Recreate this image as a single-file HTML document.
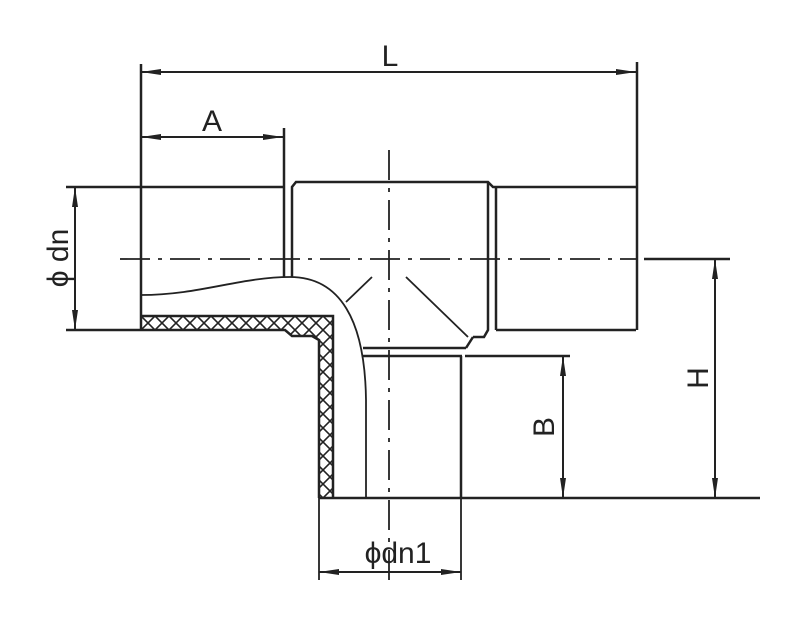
<!DOCTYPE html>
<html><head><style>body{margin:0;background:#fff}svg{display:block}</style></head><body>
<svg width="800" height="619" viewBox="0 0 800 619" xmlns="http://www.w3.org/2000/svg">
<defs>
<pattern id="h" x="141" y="316" width="14" height="14" patternUnits="userSpaceOnUse">
<path d="M0 0L14 14M14 0L0 14" stroke="#222" stroke-width="1.6"/>
</pattern>
</defs>
<g fill="none" stroke="#222" stroke-width="2.5">
<path d="M141 316H333V498H319V340L312 336H292L285 330H141Z" fill="url(#h)" stroke="none"/>
<path d="M141 316H333V498" />
<path d="M66 187H284M66 330H285L292 336H312L319 340V498"/>
<path d="M141 64V330"/>
<path d="M284 128V277M292 277V187L296 182H488L493 187H636M496 187V330M488 182V330L484 337H473"/>
<path d="M637 62V330M496 330H636"/>
<path d="M363 348H466M363 356H462M461 356V498M465 356H570M319 498H760"/>
<path d="M466 348L473 337"/>
</g>
<g fill="none" stroke="#222" stroke-width="1.8">
<path d="M141 295C200 295 240 277 290 277C340 277 365 320 366 400L366 498"/>
<path d="M346 302L372 277M406 277L468 337"/>
<path d="M120 259H636" stroke-dasharray="30 8 4 8"/>
<path d="M644 259H730" stroke-width="2.5"/>
<path d="M389 150V580" stroke-dasharray="30 8 4 8"/>
<path d="M141 72H636M141 137H283M75 187V330M715 259V498M563 356V498M319 572H461" stroke-width="2"/>
<path d="M319 498V580M461 498V580"/>
</g>
<g fill="#222">
<path d="M141 72l20-3v6zM636 72l-20-3v6z"/>
<path d="M141 137l20-3v6zM283 137l-20-3v6z"/>
<path d="M75 187l-3 20h6zM75 330l-3-20h6z"/>
<path d="M715 259l-3 20h6zM715 498l-3-20h6z"/>
<path d="M563 356l-3 20h6zM563 498l-3-20h6z"/>
<path d="M319 572l20-3v6zM461 572l-20-3v6z"/>
</g>
<g font-family="Liberation Sans, sans-serif" font-size="30" fill="#222">
<text x="390" y="66" text-anchor="middle">L</text>
<text x="212" y="131" text-anchor="middle">A</text>
<text x="398" y="563" text-anchor="middle">ϕdn1</text>
<text transform="translate(68 258) rotate(-90)" text-anchor="middle">ϕ dn</text>
<text transform="translate(708 378) rotate(-90)" text-anchor="middle">H</text>
<text transform="translate(554 427) rotate(-90)" text-anchor="middle">B</text>
</g>
</svg>
</body></html>
